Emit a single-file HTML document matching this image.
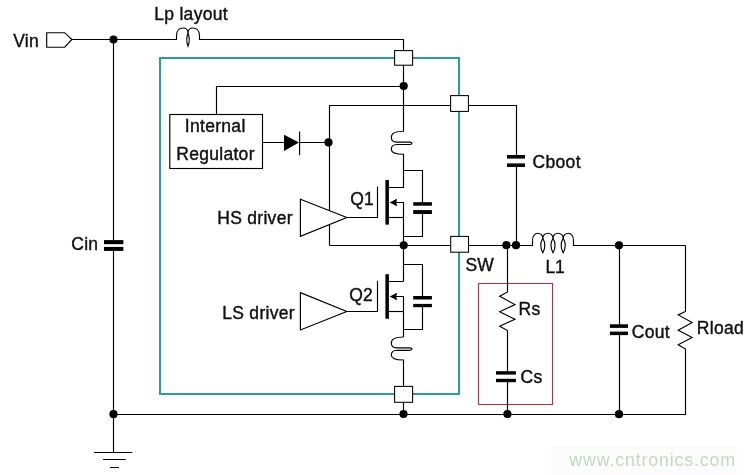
<!DOCTYPE html>
<html><head><meta charset="utf-8">
<style>
html,body{margin:0;padding:0;background:#fff;}
svg{display:block;will-change:transform;}
text{font-family:"Liberation Sans",sans-serif;fill:#111;stroke:#111;stroke-width:0.4px;}
</style></head>
<body>
<svg width="753" height="475" viewBox="0 0 753 475">
<rect x="0" y="0" width="753" height="475" fill="#fff"/>
<rect x="551" y="446" width="186" height="29" fill="#fbfcfb"/>

<!-- teal chip outline -->
<rect x="160" y="58" width="299" height="336" fill="none" stroke="#2a9c9e" stroke-width="2"/>

<!-- red snubber box -->
<rect x="478.5" y="283.5" width="74" height="121" fill="none" stroke="#a03c4a" stroke-width="1.1"/>

<g fill="none" stroke="#000" stroke-width="1.15" stroke-linejoin="miter">
  <!-- Vin connector -->
  <path d="M46.7,32.7 H64.7 L71.9,39.5 L64.7,47.2 H46.7 Z"/>
  <!-- top wire + Lp -->
  <path d="M71.9,39.5 H176.5 V35.5 C176.5,30.5 179.5,28 183,28 C186.5,28 188,30.5 188,33 C188,30.5 189.5,28 192.8,28 C196.5,28 199.5,30.5 199.5,35.5 V39.5 H403.5 V51"/>
  <path d="M188,33 C186.4,37 186.4,42 188,46.2 C189.6,42 189.6,37 188,33 Z"/>
  <!-- Cin column -->
  <path d="M113.5,39.5 V240.5 M113.5,250.5 V452.5"/>
  <!-- ground -->
  <path d="M94,452.5 H132.3 M103,459.5 H125.7 M110,467.5 H119"/>
  <!-- bottom wire + Rload -->
  <path d="M113.5,414.5 H685.5 V349 L678.2,344.8 L692.1,337.5 L678.2,330.3 L692.1,322.5 L678.2,314.9 L685.5,311.4 V245.5"/>
  <!-- regulator feed -->
  <path d="M216.5,114.5 V86.5 H403.5"/>
  <!-- regulator box -->
  <rect x="169.8" y="114.5" width="92.7" height="54"/>
  <!-- diode wire -->
  <path d="M262.5,142.5 H284 M299.6,142.5 H329.5"/>
  <path d="M299.6,131.5 V155.2"/>
  <!-- boot wire -->
  <path d="M329.5,245.5 V105.5 H516.5 V155.5 M516.5,166.5 V245.5"/>
  <!-- main horizontal -->
  <path d="M329.5,245.5 H532.5 V240.2"/>
  <path d="M532.5,240.2 M532.5,240.2 C532.5,236.35 534.82,233.2 537.65,233.2 C540.48,233.2 542.8,235.50 542.8,238.3 M542.8,238.3 C542.8,235.50 545.09,233.2 547.90,233.2 C550.71,233.2 553,235.50 553,238.3 M553,238.3 C553,235.50 555.29,233.2 558.10,233.2 C560.91,233.2 563.2,235.50 563.2,238.3 M563.2,238.3 C563.2,235.50 565.52,233.2 568.35,233.2 C571.18,233.2 573.5,236.35 573.5,240.2 M573.5,240.2 V245.5 H685.5"/>
  <path d="M542.8,238.3 C540.3,242.5 540.3,248.3 542.8,252.8 C545.3,248.3 545.3,242.5 542.8,238.3 Z"/>
  <path d="M553,238.3 C550.5,242.5 550.5,248.3 553,252.8 C555.5,248.3 555.5,242.5 553,238.3 Z"/>
  <path d="M563.2,238.3 C560.7,242.5 560.7,248.3 563.2,252.8 C565.7,248.3 565.7,242.5 563.2,238.3 Z"/>
  <!-- Cout column -->
  <path d="M619.5,245.5 V325 M619.5,334 V414.5"/>
  <!-- Rs Cs column -->
  <path d="M507.5,245.5 V292 L499.7,296.3 L515,304.6 L499.7,311.8 L515,319.2 L499.7,326.2 L507.5,330.6 V371.5 M507.5,382 V414.5"/>

  <!-- main column top + upper inductor -->
  <path d="M403.5,65 V131.2 C396,131.2 391.3,133.5 391.3,137.2 C391.3,140.0 393.5,142.0 396.5,142.1 L409.8,142.1 C411.3,142.2 412,142.8 412,143.3 C412,143.8 411.3,144.4 409.8,144.5 L397,144.5 C393.5,144.6 391.3,146.5 391.3,149.2 C391.3,152.3 396,154.2 403.5,154.2 V187.5 H388.8"/>
  <!-- Q1 -->
  <path d="M403.5,170.5 H422.5 V203 M422.5,213 V236.5 H403.5"/>
  <path d="M390,202.5 H403.5 V281.5"/>
  <path d="M390,296.5 H403.5 V337"/>
  <path d="M388.8,217.5 H403.5"/>
  <path d="M346.8,217.5 H377.5 V186.6"/>
  <!-- Q2 -->
  <path d="M388.8,281.5 H403.5 M403.5,264.5 H422.5 V297 M422.5,306 V329.5 H403.5"/>
  <path d="M388.8,311.5 H403.5"/>
  <path d="M346.8,311.5 H377.5 V280.8"/>
  <!-- lower inductor -->
  <path d="M403.5,337 C396,337.0 391.3,339.3 391.3,343.0 C391.3,345.8 393.5,347.8 396.5,347.9 L409.8,347.9 C411.3,348.0 412,348.6 412,349.1 C412,349.6 411.3,350.2 409.8,350.3 L397,350.3 C393.5,350.4 391.3,352.3 391.3,355.0 C391.3,358.1 396,360.0 403.5,360.0 V386.5"/>
  <path d="M403.5,402.5 V414.5"/>
</g>

<!-- driver triangles (white fill covers wire) -->
<g fill="#fff" stroke="#000" stroke-width="1.15">
  <path d="M300.4,199.2 L346.8,217.5 L300.4,236.4 Z"/>
  <path d="M300.4,292.6 L346.8,311.5 L300.4,330 Z"/>
</g>

<!-- gate bars -->
<rect x="385.4" y="180" width="3.5" height="44.6" fill="#000"/>
<rect x="385.4" y="274.2" width="3.5" height="44.5" fill="#000"/>
<!-- arrows -->
<path d="M390.8,202.5 L396.6,199.4 L395.6,202.5 L396.6,205.7 Z" fill="#000" stroke="#000" stroke-width="1"/>
<path d="M390.8,296.5 L396.6,293.4 L395.6,296.5 L396.6,299.7 Z" fill="#000" stroke="#000" stroke-width="1"/>

<!-- capacitor plates -->
<g fill="#000">
  <rect x="104" y="240.1" width="19.4" height="4.1"/>
  <rect x="104" y="246.9" width="19.4" height="4"/>
  <rect x="507" y="155" width="18" height="3.6"/>
  <rect x="507" y="163.4" width="18" height="3.6"/>
  <rect x="413.2" y="202.2" width="18.7" height="3.5"/>
  <rect x="413.2" y="210.1" width="18.7" height="3.9"/>
  <rect x="413.2" y="296" width="18.7" height="3.5"/>
  <rect x="413.2" y="303.9" width="18.7" height="3.3"/>
  <rect x="609.9" y="324.3" width="18.1" height="3.6"/>
  <rect x="609.9" y="331.6" width="18.1" height="3.5"/>
  <rect x="496" y="371.2" width="19.9" height="3.4"/>
  <rect x="496" y="378.8" width="19.9" height="3.4"/>
  <!-- diode -->
  <path d="M284,134.8 L299,142.5 L284,151 Z"/>
  <!-- dots -->
  <circle cx="113.5" cy="39.5" r="4.1"/>
  <circle cx="403.7" cy="86" r="4.1"/>
  <circle cx="328.5" cy="142.4" r="4.1"/>
  <circle cx="403.7" cy="245.3" r="4.1"/>
  <circle cx="506.4" cy="245.2" r="4.1"/>
  <circle cx="516" cy="245.2" r="4.1"/>
  <circle cx="619" cy="245.3" r="4.1"/>
  <circle cx="113.5" cy="414.2" r="4.1"/>
  <circle cx="403.5" cy="414" r="4.1"/>
  <circle cx="507.4" cy="414" r="4.1"/>
  <circle cx="619" cy="414.2" r="4.1"/>
</g>

<!-- connector boxes -->
<g fill="#fff" stroke="#000" stroke-width="1.05">
  <rect x="394.6" y="50.6" width="18" height="14.6"/>
  <rect x="450.6" y="95.6" width="17.8" height="15.8"/>
  <rect x="450.7" y="236.4" width="17.8" height="15.8"/>
  <rect x="394.6" y="386.4" width="18" height="15.9"/>
</g>

<!-- labels -->
<g font-size="17.5" letter-spacing="0.3">
  <text x="13.2" y="46.9">Vin</text>
  <text x="154.2" y="19.8">Lp layout</text>
  <text x="184.8" y="132.2">Internal</text>
  <text x="176.2" y="159.8">Regulator</text>
  <text x="350.2" y="205.3">Q1</text>
  <text x="217.2" y="224.2">HS driver</text>
  <text x="349.2" y="301.2">Q2</text>
  <text x="222.2" y="318.6">LS driver</text>
  <text x="532.6" y="168.2">Cboot</text>
  <text x="465.4" y="271.0">SW</text>
  <text x="545.4" y="272.8" letter-spacing="0">L1</text>
  <text x="518.5" y="315.0">Rs</text>
  <text x="520.6" y="383.1">Cs</text>
  <text x="71.2" y="250.3">Cin</text>
  <text x="631.8" y="338.0">Cout</text>
  <text x="696.8" y="334.1">Rload</text>
</g>
<text x="569.3" y="465.6" font-size="17.8" letter-spacing="0.85" style="fill:#c6d8c0;stroke:none">www.cntronics.com</text>
</svg>
</body></html>
